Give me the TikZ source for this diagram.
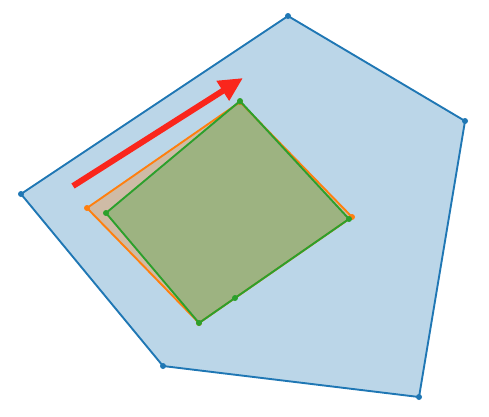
\documentclass[tikz,border=0pt]{standalone}
\usetikzlibrary{arrows.meta}
\definecolor{tabblue}{HTML}{1F77B4}
\definecolor{taborange}{HTML}{FF7F0E}
\definecolor{tabgreen}{HTML}{2CA02C}
\definecolor{arrowred}{RGB}{250,38,28}
\begin{document}
\begin{tikzpicture}[x=1pt,y=-1pt,
  poly/.style={line width=1.9pt, line join=round, fill opacity=0.3},
  vmark/.style={circle, inner sep=0pt, minimum size=6pt},
  bigarrow/.style={line width=6pt, draw=arrowred, -{Triangle[width=22pt,length=24pt]}}]
\useasboundingbox (0,0) rectangle (489,416);
% blue pentagon
\coordinate (b1) at (288,16);
\coordinate (b2) at (465,121);
\coordinate (b3) at (419,397);
\coordinate (b4) at (163,366);
\coordinate (b5) at (21,194);
% orange quad
\coordinate (o1) at (240,102);
\coordinate (o2) at (352,217);
\coordinate (o3) at (199,323);
\coordinate (o4) at (87,208);
% green quad
\coordinate (g1) at (240,101);
\coordinate (g2) at (349,219);
\coordinate (gm) at (235,298);
\coordinate (g3) at (199,323);
\coordinate (g4) at (106,213);
% arrow
\coordinate (a1) at (73,186);
\coordinate (a2) at (243,78);

\filldraw[poly, draw=tabblue, fill=tabblue] (b1) -- (b2) -- (b3) -- (b4) -- (b5) -- cycle;
\foreach \p in {b1,b2,b3,b4,b5} \node[vmark, fill=tabblue] at (\p) {};

\filldraw[poly, draw=taborange, fill=taborange] (o1) -- (o2) -- (o3) -- (o4) -- cycle;
\foreach \p in {o1,o2,o3,o4} \node[vmark, fill=taborange] at (\p) {};

\filldraw[poly, draw=tabgreen, fill=tabgreen] (g1) -- (g2) -- (gm) -- (g3) -- (g4) -- cycle;
\foreach \p in {g1,g2,gm,g3,g4} \node[vmark, fill=tabgreen] at (\p) {};

\draw[bigarrow] (a1) -- (a2);
\end{tikzpicture}
\end{document}
